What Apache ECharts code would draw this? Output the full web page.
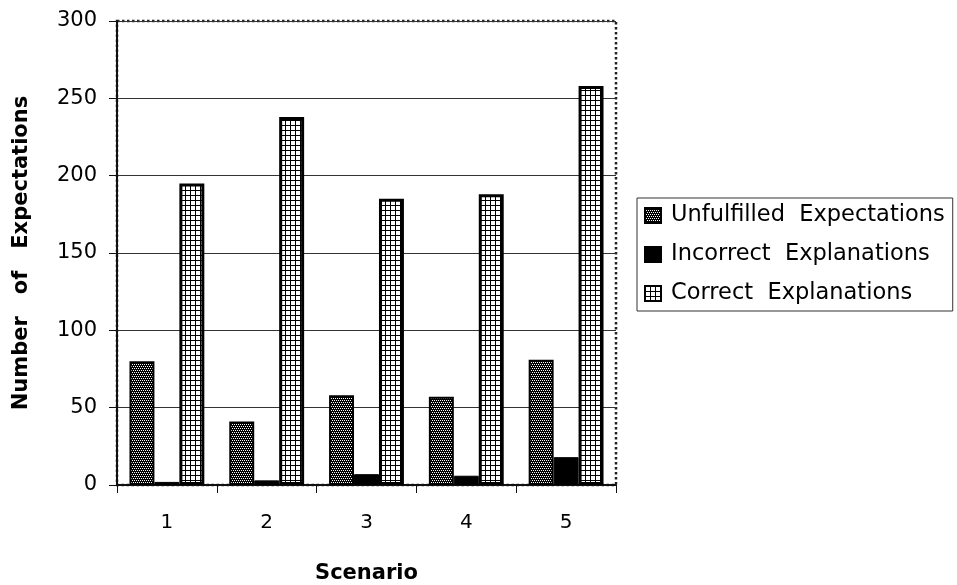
<!DOCTYPE html>
<html>
<head>
<meta charset="utf-8">
<script src="https://cdn.jsdelivr.net/npm/echarts@6/dist/echarts.min.js"></script>
<style>
  html, body { margin: 0; padding: 0; background: #ffffff; }
  #chart { width: 957px; height: 585px; }
</style>
</head>
<body>
<div id="chart"></div>
<script>
// Scenarios on the x axis
const scenarios = ['1', '2', '3', '4', '5'];

// Counts per scenario
const unfulfilledExpectations = [80, 41, 58, 57, 81];
const incorrectExplanations = [2, 3, 7, 6, 18];
const correctExplanations = [195, 238, 185, 188, 258];

// Value axis range
const yMin = 0;
const yMax = 300;
const yStep = 50;

// Small repeating tiles used as bar fills
function makeTile(size, draw) {
  const c = document.createElement('canvas');
  c.width = size;
  c.height = size;
  const ctx = c.getContext('2d');
  draw(ctx);
  return c;
}

// dark fill with fine staggered white dots
const darkDots = makeTile(4, function (ctx) {
  ctx.fillStyle = '#000';
  ctx.fillRect(0, 0, 4, 4);
  ctx.fillStyle = '#fff';
  ctx.fillRect(0, 0, 1, 1);
  ctx.fillRect(2, 0, 1, 1);
  ctx.fillRect(1, 2, 1, 1);
  ctx.fillRect(3, 2, 1, 1);
});

// light fill: white squares on a thin black grid
const lightGrid = makeTile(5, function (ctx) {
  ctx.fillStyle = '#000';
  ctx.fillRect(0, 0, 5, 5);
  ctx.fillStyle = '#fff';
  ctx.fillRect(1, 1, 4, 4);
});

const FONT = 'DejaVu Sans';

const chart = echarts.init(document.getElementById('chart'), null, { renderer: 'canvas' });

chart.setOption({
  backgroundColor: '#ffffff',
  animation: false,
  textStyle: { fontFamily: FONT, color: '#000' },
  grid: {
    left: 117,
    right: 341,
    top: 21,
    bottom: 100,
    containLabel: false,
    outerBoundsMode: 'none',
    show: true,
    borderColor: '#222',
    borderWidth: 2.5,
    borderType: 'dotted',
    backgroundColor: 'transparent'
  },
  legend: {
    orient: 'vertical',
    left: 637,
    top: 198,
    padding: [6, 8, 6, 7],
    itemGap: 16,
    itemWidth: 16,
    itemHeight: 15,
    icon: 'rect',
    borderColor: '#333',
    borderWidth: 1,
    backgroundColor: '#fff',
    textStyle: { fontFamily: FONT, fontSize: 22.5, lineHeight: 22, color: '#000', padding: [0, 0, 0, 5] },
    data: ['Unfulfilled  Expectations', 'Incorrect  Explanations', 'Correct  Explanations']
  },
  xAxis: {
    type: 'category',
    data: scenarios,
    boundaryGap: true,
    name: 'Scenario',
    nameLocation: 'middle',
    nameGap: 78,
    nameTextStyle: { fontFamily: FONT, fontSize: 21, fontWeight: 'bold', color: '#000' },
    axisLine: { show: true, lineStyle: { color: '#111', width: 2 } },
    axisTick: { show: true, length: 8, alignWithLabel: false, lineStyle: { color: '#111', width: 1 } },
    axisLabel: { fontFamily: FONT, fontSize: 20, color: '#000', margin: 28 },
    splitLine: { show: false }
  },
  yAxis: {
    type: 'value',
    min: yMin,
    max: yMax,
    interval: yStep,
    name: 'Number   of   Expectations',
    nameLocation: 'middle',
    nameGap: 85,
    nameRotate: 90,
    nameTextStyle: { fontFamily: FONT, fontSize: 21, fontWeight: 'bold', color: '#000' },
    axisLine: { show: true, lineStyle: { color: '#111', width: 2 } },
    axisTick: { show: true, length: 8, inside: false, lineStyle: { color: '#111', width: 1 } },
    axisLabel: { fontFamily: FONT, fontSize: 21, color: '#000', margin: 20 },
    splitLine: { show: true, lineStyle: { color: '#333', width: 1 } }
  },
  series: [
    {
      name: 'Unfulfilled  Expectations',
      type: 'bar',
      data: unfulfilledExpectations,
      barGap: '0%',
      barCategoryGap: '25%',
      itemStyle: {
        color: { image: darkDots, repeat: 'repeat' },
        borderColor: '#000',
        borderWidth: 2
      }
    },
    {
      name: 'Incorrect  Explanations',
      type: 'bar',
      data: incorrectExplanations,
      barGap: '0%',
      barCategoryGap: '25%',
      itemStyle: { color: '#000', borderColor: '#000', borderWidth: 1 }
    },
    {
      name: 'Correct  Explanations',
      type: 'bar',
      data: correctExplanations,
      barGap: '0%',
      barCategoryGap: '25%',
      itemStyle: {
        color: { image: lightGrid, repeat: 'repeat' },
        borderColor: '#000',
        borderWidth: 3
      }
    }
  ]
});
</script>
</body>
</html>
